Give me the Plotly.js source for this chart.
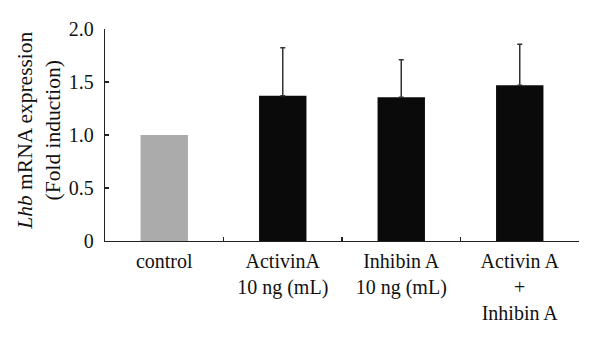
<!DOCTYPE html>
<html>
<head>
<meta charset="utf-8">
<script src="https://cdn.plot.ly/plotly-3.0.1.min.js"></script>
<style>html,body{margin:0;padding:0;background:#fff;}#chart{width:600px;height:337px;}</style>
</head>
<body>
<div id="chart"></div>
<script>
const categories = ["control", "ActivinA<br>10 ng (mL)", "Inhibin A<br>10 ng (mL)", "Activin A<br>+<br>Inhibin A"];
const values = [1.0, 1.37, 1.355, 1.47];
const errorsUp = [0, 0.453, 0.356, 0.387];
const barColors = ["#ababab", "#0a0a0a", "#0a0a0a", "#0a0a0a"];
const yTickVals = [0, 0.5, 1.0, 1.5, 2.0];
const yTickText = ["0", "0.5", "1.0", "1.5", "2.0"];
const yTitle = "<i>Lhb</i> mRNA expression<br>(Fold induction)";

const font = {family: "Liberation Serif, Times New Roman, serif", size: 20, color: "#111"};
const titleFont = {family: "Liberation Serif, Times New Roman, serif", size: 21.5, color: "#111"};

// control bar (no error bar) and treatment bars (upper error bars only)
const traces = [
  {
    type: "bar",
    x: categories.slice(0, 1),
    y: values.slice(0, 1),
    marker: {color: barColors.slice(0, 1), line: {width: 0}},
    width: 0.4,
    hoverinfo: "none"
  },
  {
    type: "bar",
    x: categories.slice(1),
    y: values.slice(1),
    marker: {color: barColors.slice(1), line: {width: 0}},
    width: 0.4,
    error_y: {
      type: "data",
      symmetric: false,
      array: errorsUp.slice(1),
      arrayminus: errorsUp.slice(1).map(() => 0),
      color: "#333",
      thickness: 1.5,
      width: 2.5
    },
    hoverinfo: "none"
  }
];

Plotly.newPlot("chart", traces, {
  width: 600, height: 337,
  margin: {l: 105, r: 21, t: 29, b: 96, pad: 0},
  paper_bgcolor: "#fff", plot_bgcolor: "#fff",
  font: font,
  showlegend: false,
  barmode: "overlay",
  xaxis: {
    type: "category",
    categoryorder: "array",
    categoryarray: categories,
    range: [-0.5, 3.5],
    showline: true, linecolor: "#222", linewidth: 1.2,
    ticks: "inside", ticklen: 4, tickcolor: "#222", tickwidth: 1.2,
    tickson: "boundaries",
    showgrid: false, zeroline: false,
    ticklabelstandoff: 2,
    tickfont: font
  },
  yaxis: {
    range: [0, 2],
    showline: true, linecolor: "#222", linewidth: 1.2,
    ticks: "inside", ticklen: 4, tickcolor: "#222", tickwidth: 1.2,
    tickvals: yTickVals, ticktext: yTickText,
    showgrid: false, zeroline: false,
    ticklabelstandoff: 6,
    tickfont: font
  },
  annotations: [{
    text: yTitle,
    font: titleFont,
    textangle: -90,
    xref: "paper", yref: "paper",
    x: 0, y: 0.52,
    xanchor: "center", yanchor: "middle",
    xshift: -66,
    showarrow: false
  }]
}, {staticPlot: true});
</script>
</body>
</html>
